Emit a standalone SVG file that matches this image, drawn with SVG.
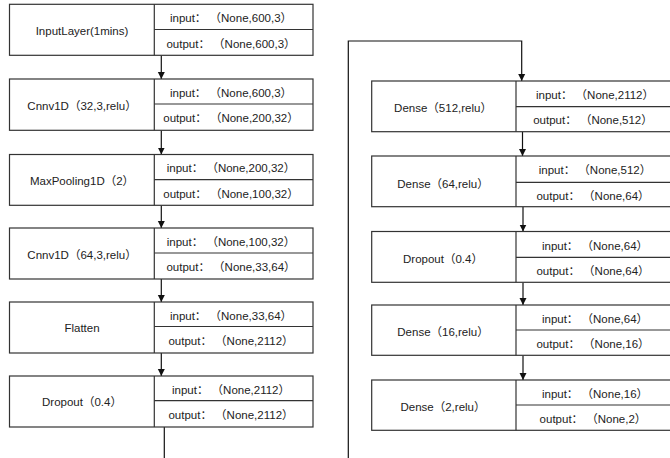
<svg xmlns="http://www.w3.org/2000/svg" width="670" height="458" viewBox="0 0 670 458">
<defs>
<style>
.b{fill:#fff;stroke:#333;stroke-width:1.2}
.l{stroke:#333;stroke-width:1.2;fill:none}
text{font-family:"Liberation Sans","Noto Sans CJK SC",sans-serif;font-size:11.5px;fill:#222;text-anchor:middle}
.c{stroke:#111;stroke-width:1.2;fill:none}
</style>
<marker id="ah" viewBox="0 0 10 10" refX="10" refY="5" markerWidth="7" markerHeight="9" markerUnits="userSpaceOnUse" orient="auto">
<path d="M0,0 L10,5 L0,10 z" fill="#111"/>
</marker>
</defs>
<g id="connectors">
<line class="c" x1="161.3" y1="55.3" x2="161.3" y2="79" marker-end="url(#ah)"/>
<line class="c" x1="161.3" y1="130.3" x2="161.3" y2="154.5" marker-end="url(#ah)"/>
<line class="c" x1="161.3" y1="205.3" x2="161.3" y2="228" marker-end="url(#ah)"/>
<line class="c" x1="161.3" y1="279" x2="161.3" y2="302" marker-end="url(#ah)"/>
<line class="c" x1="161.3" y1="353" x2="161.3" y2="376" marker-end="url(#ah)"/>
<line class="c" x1="164.3" y1="427" x2="164.3" y2="458"/>
<path class="c" d="M348.3,458 V41 H521.7 V81" marker-end="url(#ah)"/>
<line class="c" x1="522.5" y1="131.7" x2="522.5" y2="156" marker-end="url(#ah)"/>
<line class="c" x1="523" y1="207" x2="523" y2="231.5" marker-end="url(#ah)"/>
<line class="c" x1="523" y1="282.5" x2="523" y2="305" marker-end="url(#ah)"/>
<line class="c" x1="523" y1="355.5" x2="523" y2="380" marker-end="url(#ah)"/>
</g>
<g id="n1">
<rect class="b" x="9.5" y="4.3" width="303.5" height="51"/>
<line class="l" x1="154.3" y1="4.3" x2="154.3" y2="55.3"/>
<line class="l" x1="154.3" y1="29.5" x2="313" y2="29.5"/>
<text x="82" y="34.7">InputLayer(1mins)</text>
<text x="231" y="22.2">input： （None,600,3）</text>
<text x="231" y="47.5">output： （None,600,3）</text>
</g>
<g id="n2">
<rect class="b" x="9.5" y="79" width="303.5" height="51.3"/>
<line class="l" x1="154.3" y1="79" x2="154.3" y2="130.3"/>
<line class="l" x1="154.3" y1="104" x2="313" y2="104"/>
<text x="82" y="109.5">Cnnv1D（32,3,relu）</text>
<text x="231" y="96.8">input： （None,600,3）</text>
<text x="231" y="122.3">output： （None,200,32）</text>
</g>
<g id="n3">
<rect class="b" x="9.5" y="154.5" width="303.5" height="50.8"/>
<line class="l" x1="154.3" y1="154.5" x2="154.3" y2="205.3"/>
<line class="l" x1="154.3" y1="179.7" x2="313" y2="179.7"/>
<text x="82" y="185">MaxPooling1D（2）</text>
<text x="231" y="172.3">input： （None,200,32）</text>
<text x="231" y="197.8">output： （None,100,32）</text>
</g>
<g id="n4">
<rect class="b" x="9.5" y="228" width="303.5" height="51"/>
<line class="l" x1="154.3" y1="228" x2="154.3" y2="279"/>
<line class="l" x1="154.3" y1="253" x2="313" y2="253"/>
<text x="82" y="258.5">Cnnv1D（64,3,relu）</text>
<text x="231" y="245.8">input： （None,100,32）</text>
<text x="231" y="271">output： （None,33,64）</text>
</g>
<g id="n5">
<rect class="b" x="9.5" y="302" width="303.5" height="51"/>
<line class="l" x1="154.3" y1="302" x2="154.3" y2="353"/>
<line class="l" x1="154.3" y1="326.5" x2="313" y2="326.5"/>
<text x="82" y="332">Flatten</text>
<text x="231" y="319.5">input： （None,33,64）</text>
<text x="231" y="345">output： （None,2112）</text>
</g>
<g id="n6">
<rect class="b" x="9.5" y="376" width="303.5" height="51"/>
<line class="l" x1="154.3" y1="376" x2="154.3" y2="427"/>
<line class="l" x1="154.3" y1="400.7" x2="313" y2="400.7"/>
<text x="82" y="406">Dropout（0.4）</text>
<text x="231" y="393.5">input： （None,2112）</text>
<text x="231" y="419">output： （None,2112）</text>
</g>
<g id="n7">
<rect class="b" x="371.7" y="81" width="302" height="50.7"/>
<line class="l" x1="516" y1="81" x2="516" y2="131.7"/>
<line class="l" x1="516" y1="106.7" x2="672" y2="106.7"/>
<text x="443" y="112">Dense（512,relu）</text>
<text x="595" y="99">input： （None,2112）</text>
<text x="593" y="124">output： （None,512）</text>
</g>
<g id="n8">
<rect class="b" x="371.7" y="156" width="302" height="50.7"/>
<line class="l" x1="516" y1="156" x2="516" y2="206.7"/>
<line class="l" x1="516" y1="182.3" x2="672" y2="182.3"/>
<text x="443" y="187.5">Dense（64,relu）</text>
<text x="595" y="174">input： （None,512）</text>
<text x="593" y="199.5">output： （None,64）</text>
</g>
<g id="n9">
<rect class="b" x="371.7" y="231.5" width="302" height="50.8"/>
<line class="l" x1="516" y1="231.5" x2="516" y2="282.3"/>
<line class="l" x1="516" y1="257.3" x2="672" y2="257.3"/>
<text x="443" y="262.5">Dropout（0.4）</text>
<text x="595" y="249.5">input： （None,64）</text>
<text x="593" y="274.5">output： （None,64）</text>
</g>
<g id="n10">
<rect class="b" x="371.7" y="305" width="302" height="50.3"/>
<line class="l" x1="516" y1="305" x2="516" y2="355.3"/>
<line class="l" x1="516" y1="330" x2="672" y2="330"/>
<text x="443" y="335.5">Dense（16,relu）</text>
<text x="595" y="322.5">input： （None,64）</text>
<text x="593" y="347.5">output： （None,16）</text>
</g>
<g id="n11">
<rect class="b" x="371.7" y="380" width="302" height="50.3"/>
<line class="l" x1="516" y1="380" x2="516" y2="430.3"/>
<line class="l" x1="516" y1="405" x2="672" y2="405"/>
<text x="443" y="410.5">Dense（2,relu）</text>
<text x="595" y="397.5">input： （None,16）</text>
<text x="593" y="422.5">output： （None,2）</text>
</g>
</svg>
